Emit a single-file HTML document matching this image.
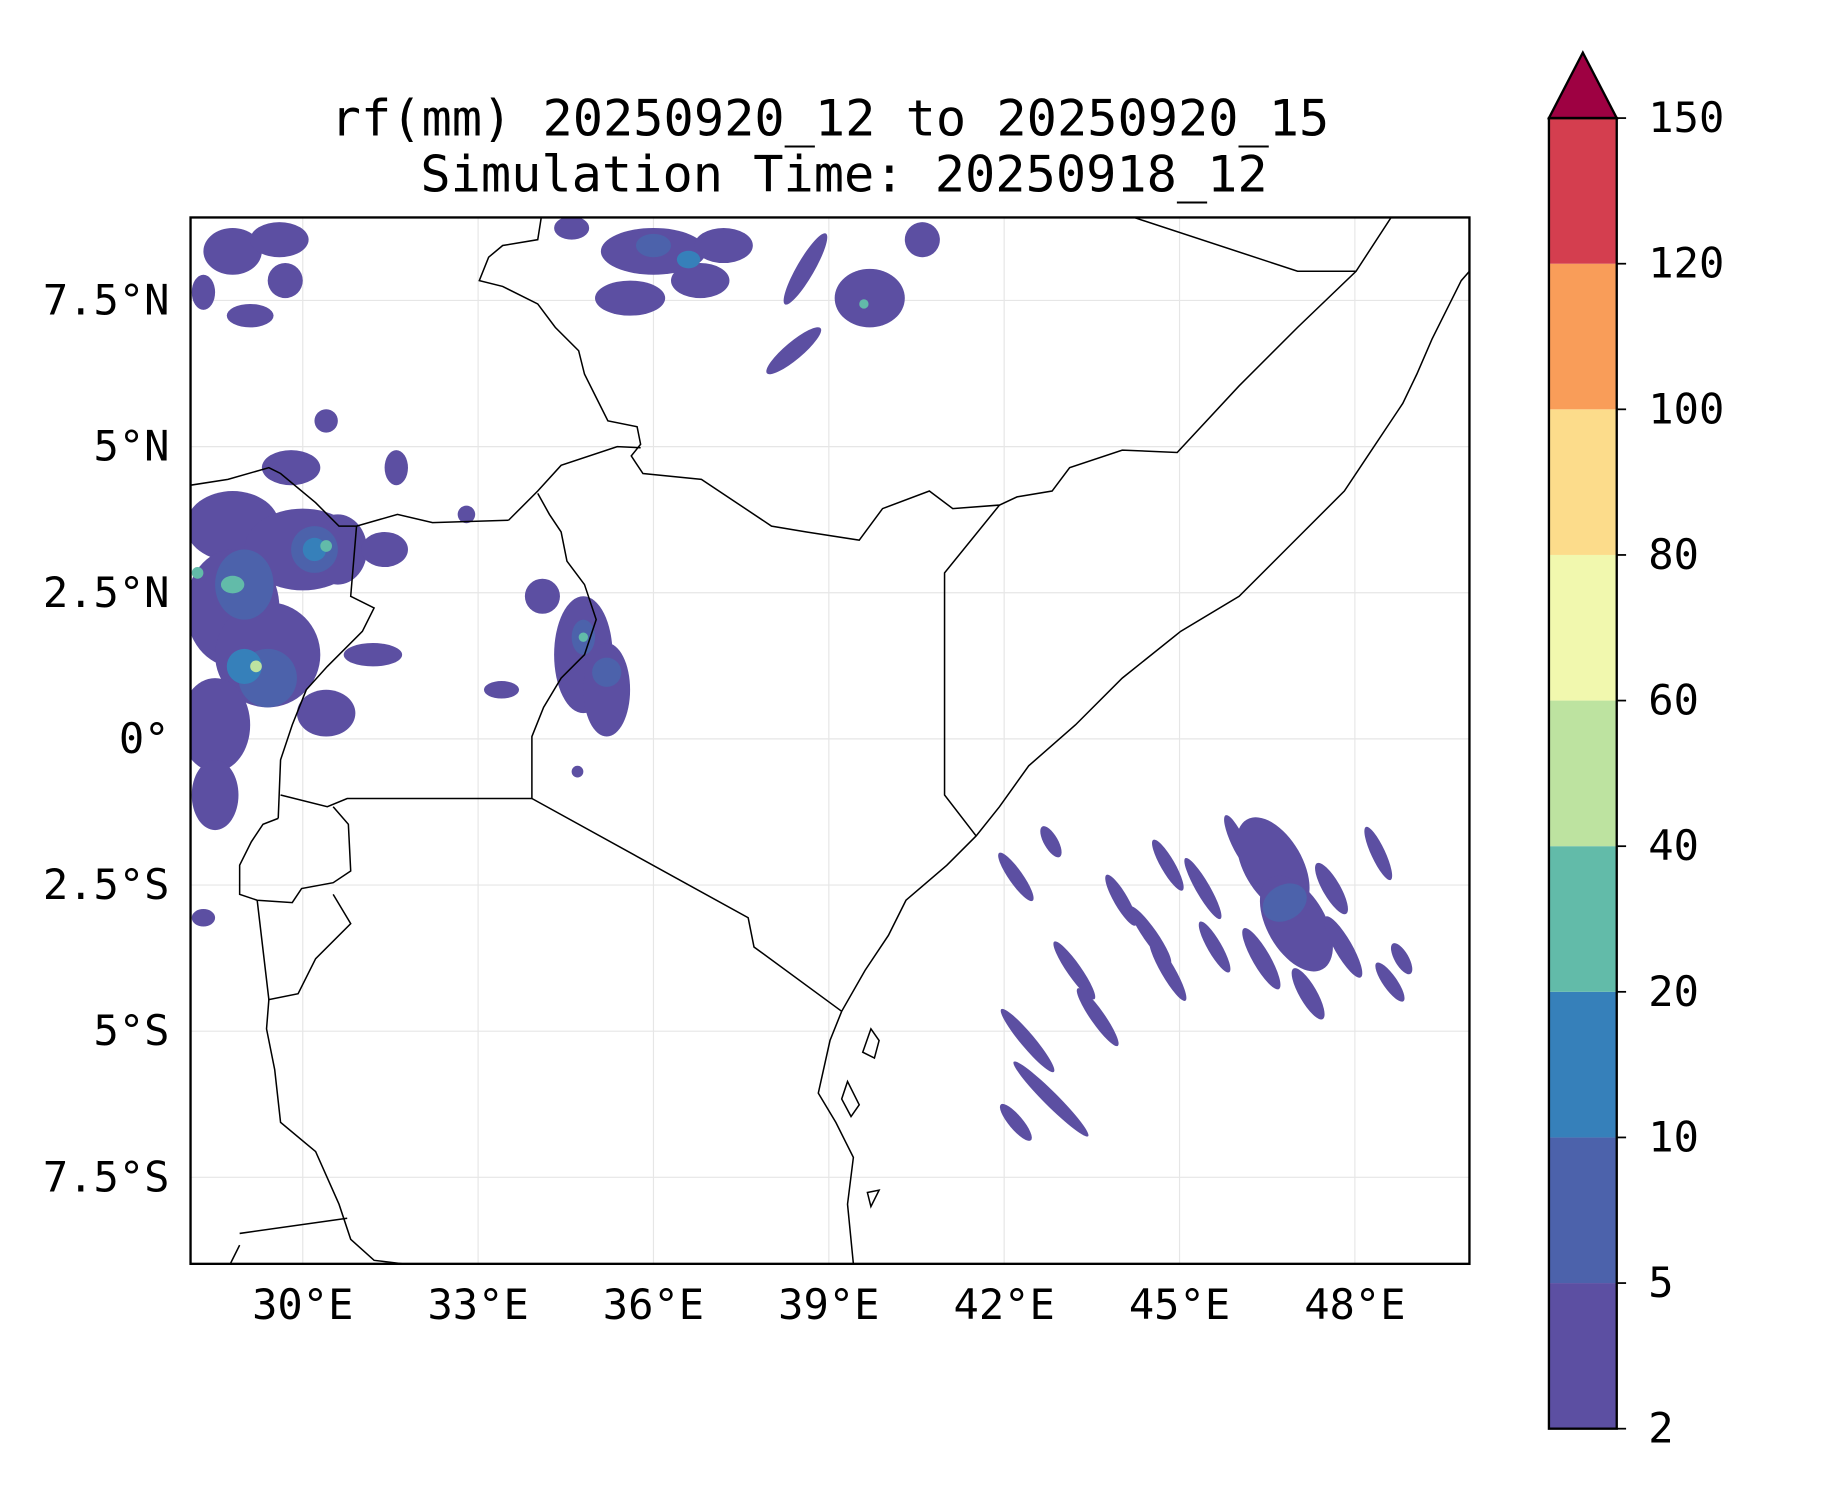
<!DOCTYPE html>
<html><head><meta charset="utf-8"><style>
html,body{margin:0;padding:0;background:#fff;}
svg text{font-family:"DejaVu Sans Mono","Liberation Mono",monospace;fill:#000;}
</style></head><body>
<svg id="fig" width="1833" height="1500" viewBox="0 0 1568 1283" preserveAspectRatio="none" xmlns="http://www.w3.org/2000/svg">
<rect width="1568" height="1283" fill="#fff"/>
<text x="710" y="116" font-size="43" text-anchor="middle">rf(mm) 20250920_12 to 20250920_15</text>
<text x="722" y="164" font-size="43" text-anchor="middle">Simulation Time: 20250918_12</text>
<defs><clipPath id="mapclip"><rect x="163" y="186" width="1094" height="895"/></clipPath></defs>
<g id="grid"></g>
<g id="rain" clip-path="url(#mapclip)"></g>
<g clip-path="url(#mapclip)" fill="none" stroke="#000" stroke-width="1.3">
<path d="M1257,232 L1250,240 1225,290 1212,320 1200,345 1170,390 1150,420 1100,470 1060,510 1010,540 960,580 920,620 880,655 855,690 835,715 810,740 775,770 760,800 740,830 720,865 710,890 700,935 715,960 730,990 725,1030 730,1081"/>
<path d="M463,186 L460,205 430,210 418,220 410,240 430,245 460,260 475,280 495,300 500,320 510,340 520,360 545,365 548,380 540,390 550,405 600,410 660,450 690,455 735,462 755,435 795,420 815,435 855,432 870,425 900,420 915,400 960,385 1007,387 1060,330 1110,280 1160,232 1190,186"/>
<path d="M970,186 L1110,232 1160,232"/>
<path d="M855,432 L808,490 808,680 835,715"/>
<path d="M435,445 L460,420 480,398 528,382 548,383"/>
<path d="M460,422 L470,440 480,455 485,480 500,500 510,530 500,560 480,580 465,605 455,630 455,683"/>
<path d="M455,683 L640,785 645,810 720,865"/>
<path d="M455,683 L297,683 280,690 240,680"/>
<path d="M435,445 L370,447 340,440 305,450 290,450 270,430 240,405 230,400 195,410 163,415"/>
<path d="M305,450 L300,510 320,520 310,540 280,570 262,590 250,620 240,650 238,700"/>
<path d="M238,700 L225,705 215,720 205,740 205,765 220,770 250,772 258,760 285,755 300,745 298,705 285,690"/>
<path d="M285,765 L300,790 270,820 255,850 230,855 220,770"/>
<path d="M230,855 L228,880 235,915 240,960 270,985 290,1030 300,1060 320,1078 345,1081"/>
<path d="M205,1055 L297,1042"/><path d="M197,1081 L205,1065"/>
<path d="M745,880 L752,890 748,905 738,900 Z"/><path d="M725,925 L735,945 728,955 720,940 Z"/><path d="M742,1020 L752,1018 745,1032 Z"/>
</g>
<rect x="163" y="186" width="1094" height="895" fill="none" stroke="#000" stroke-width="2"/>
<g id="xticks"></g>
<g id="yticks"></g>
<g id="cbar"></g>
</svg>
<script>
const lonTicks=[30,33,36,39,42,45,48];
const latTicks=[7.5,5,2.5,0,-2.5,-5,-7.5];
const latLabels=["7.5°N","5°N","2.5°N","0°","2.5°S","5°S","7.5°S"];
const cbarLevels=[2,5,10,20,40,60,80,100,120,150];
const cbarColors=["#5c4fa2","#4c62ab","#3680ba","#62bba9","#bde3a0","#f1f8ae","#fcdc8b","#f99d59","#d43e4f"];
const overColor="#9e0142";
// rain blobs: lon, lat, rx(deg), ry(deg), angle, level index
const blobLon=[28.8,29.6,28.3,29.1,29.7,36.0,36.8,35.6,37.2,34.6,38.6,38.4,39.7,40.6,28.8,30.0,28.8,29.4,28.5,28.5,30.6,31.4,30.4,31.2,29.8,31.6,30.4,28.3,29.0,29.4,30.2,29.0,30.2,29.2,28.8,30.4,28.2,34.8,35.2,34.1,33.4,34.7,34.8,35.2,34.8,32.8,36.0,36.6,39.6,42.2,42.4,42.8,42.2,43.2,43.6,44.0,44.5,44.8,45.4,46.0,46.6,47.0,47.6,47.8,48.4,48.6,46.4,44.8,47.2,42.8,45.6,48.8,46.8];
const blobLat=[8.34,8.54,7.64,7.24,7.84,8.34,7.84,7.54,8.44,8.74,8.04,6.64,7.54,8.54,3.64,3.24,2.24,1.44,0.24,-0.96,3.24,3.24,0.44,1.44,4.64,4.64,5.44,-3.06,2.64,1.04,3.24,1.24,3.24,1.24,2.64,3.30,2.84,1.44,0.84,2.44,0.84,-0.56,1.74,1.14,1.74,3.84,8.44,8.2,7.44,-2.36,-5.16,-6.16,-6.56,-3.96,-4.76,-2.76,-3.36,-2.16,-2.56,-1.76,-2.16,-3.16,-2.56,-3.56,-1.96,-4.16,-3.76,-3.96,-4.36,-1.76,-3.56,-3.76,-2.8];
const blobRx=[0.5,0.5,0.2,0.4,0.3,0.9,0.5,0.6,0.5,0.3,0.7,0.6,0.6,0.3,0.8,1.0,0.8,0.9,0.6,0.4,0.5,0.4,0.5,0.5,0.5,0.2,0.2,0.2,0.5,0.5,0.4,0.3,0.2,0.1,0.2,0.1,0.1,0.5,0.4,0.3,0.3,0.1,0.2,0.25,0.08,0.15,0.3,0.2,0.08,0.5,0.7,0.9,0.4,0.6,0.6,0.5,0.6,0.5,0.6,0.5,0.9,0.9,0.5,0.6,0.5,0.4,0.6,0.6,0.5,0.3,0.5,0.3,0.3];
const blobRy=[0.4,0.3,0.3,0.2,0.3,0.4,0.3,0.3,0.3,0.2,0.15,0.15,0.5,0.3,0.6,0.7,1.0,0.9,0.8,0.6,0.6,0.3,0.4,0.2,0.3,0.3,0.2,0.15,0.6,0.5,0.4,0.3,0.2,0.1,0.15,0.1,0.1,1.0,0.8,0.3,0.15,0.1,0.3,0.25,0.08,0.15,0.2,0.15,0.08,0.12,0.12,0.12,0.12,0.12,0.12,0.12,0.12,0.12,0.12,0.12,0.5,0.5,0.15,0.15,0.12,0.12,0.15,0.12,0.15,0.12,0.12,0.12,0.4];
const blobAngle=[0,0,0,0,0,0,0,0,0,0,-60,-40,0,-50,0,0,0,0,0,0,0,0,0,0,0,0,0,0,0,0,0,0,0,0,0,0,0,0,0,0,0,0,0,0,0,0,0,0,0,55,50,45,50,55,55,60,55,60,60,65,60,60,60,60,65,55,60,60,60,60,60,60,60];
const blobLevel=[0,0,0,0,0,0,0,0,0,0,0,0,0,0,0,0,0,0,0,0,0,0,0,0,0,0,0,0,1,1,1,2,2,4,3,3,3,0,0,0,0,0,1,1,3,0,1,2,3,0,0,0,0,0,0,0,0,0,0,0,0,0,0,0,0,0,0,0,0,0,0,0,1];

const NS="http://www.w3.org/2000/svg";
const X0=163,X1=1257,Y0=186,Y1=1081,LON0=28.08,LON1=49.96,LAT0=8.92,LAT1=-8.98;
function xScale(lon){return X0+(lon-LON0)/(LON1-LON0)*(X1-X0);}
function yScale(lat){return Y0+(LAT0-lat)/(LAT0-LAT1)*(Y1-Y0);}
const CB_X=1325,CB_W=58,CB_TOP=101,CB_BOT=1222;
function cbY(i){return CB_BOT-(CB_BOT-CB_TOP)*i/(cbarLevels.length-1);}
function mk(tag,attrs,parent){const e=document.createElementNS(NS,tag);for(const k in attrs)e.setAttribute(k,attrs[k]);parent.appendChild(e);return e;}

const grid=document.getElementById('grid');
lonTicks.forEach(v=>{const l=mk('line',{x1:xScale(v),x2:xScale(v),y1:Y0,y2:Y1,stroke:'#e6e6e6','stroke-width':1},grid);

});
latTicks.forEach(v=>{const l=mk('line',{x1:X0,x2:X1,y1:yScale(v),y2:yScale(v),stroke:'#e6e6e6','stroke-width':1},grid);

});

const xt=document.getElementById('xticks');
lonTicks.forEach(v=>{const t=mk('text',{x:xScale(v),y:1128,'font-size':36,'text-anchor':'middle'},xt);t.textContent=v+'°E';

});
const yt=document.getElementById('yticks');
latTicks.forEach((v,i)=>{const t=mk('text',{x:145,y:yScale(v)+12,'font-size':36,'text-anchor':'end'},yt);t.textContent=latLabels[i];

});

const rain=document.getElementById('rain');
const pxDeg=(X1-X0)/(LON1-LON0);
for(let i=0;i<blobLon.length;i++){
 const cx=xScale(blobLon[i]),cy=yScale(blobLat[i]);
 const e=mk('ellipse',{cx:cx,cy:cy,rx:blobRx[i]*pxDeg,ry:blobRy[i]*pxDeg,fill:cbarColors[blobLevel[i]],transform:`rotate(${blobAngle[i]} ${cx} ${cy})`},rain);
 
 
}

const cb=document.getElementById('cbar');
for(let i=0;i<cbarColors.length;i++){
 const r=mk('rect',{x:CB_X,y:cbY(i+1),width:CB_W,height:cbY(i)-cbY(i+1),fill:cbarColors[i]},cb);
 
 
}
const tri=mk('polygon',{points:`${CB_X},${CB_TOP} ${CB_X+CB_W/2},45 ${CB_X+CB_W},${CB_TOP}`,fill:overColor,stroke:'#000','stroke-width':2},cb);


const fr=mk('rect',{x:CB_X,y:CB_TOP,width:CB_W,height:CB_BOT-CB_TOP,fill:'none',stroke:'#000','stroke-width':2},cb);


cbarLevels.forEach((v,i)=>{const y=cbY(i);
 const tk=mk('line',{x1:CB_X+CB_W,x2:CB_X+CB_W+8,y1:y,y2:y,stroke:'#000','stroke-width':1.5},cb);
 
 
 const t=mk('text',{x:1410,y:y+12,'font-size':36},cb);t.textContent=v;
 
 
});
</script>
</body></html>
